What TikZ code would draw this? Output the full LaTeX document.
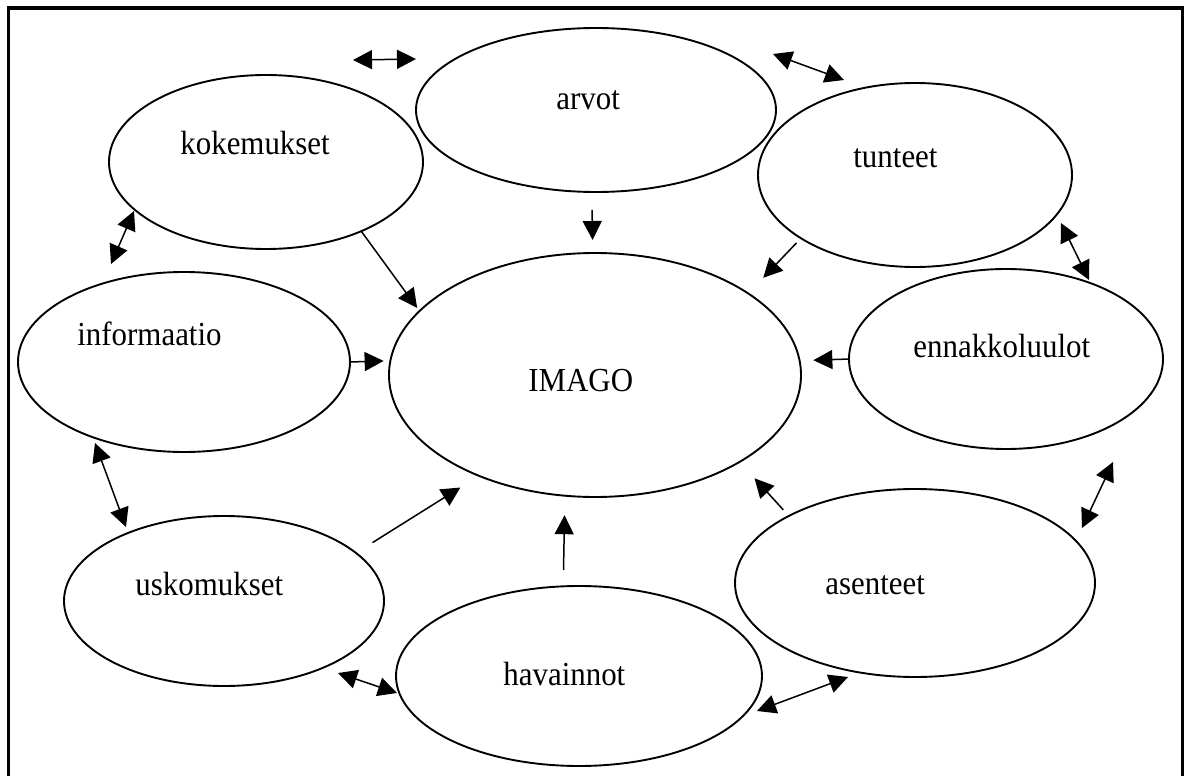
\documentclass[tikz,border=0pt]{standalone}
\usepackage{fontspec}
\setmainfont{Liberation Serif}[FakeStretch=0.92]
\usetikzlibrary{arrows.meta, shapes.geometric}

\begin{document}
\begin{tikzpicture}[
  x=0.5pt, y=-0.5pt,
  >={Triangle[length=9.5pt, width=9.5pt]},
  oval/.style={draw, ellipse, line width=0.95pt, inner sep=0pt, outer sep=0pt},
  word/.style={anchor=base west, inner sep=0pt, font=\fontsize{16.8}{19}\selectfont},
  feeds/.style={->, line width=0.75pt},
  both/.style={<->, line width=0.75pt}
]
  \useasboundingbox (0,0) rectangle (1191,776);
  \draw[line width=1.6pt] (8.5,790) -- (8.5,8) -- (1182.5,8) -- (1182.5,790);

  % the ring of ovals round IMAGO
  \node[oval, minimum width=180pt, minimum height=82pt]  (arv) at (596,110)  {};
  \node[oval, minimum width=157pt, minimum height=87pt]  (kok) at (266,162)  {};
  \node[oval, minimum width=157pt, minimum height=92pt]  (tun) at (915,175)  {};
  \node[oval, minimum width=166pt, minimum height=90pt]  (inf) at (184,362)  {};
  \node[oval, minimum width=157pt, minimum height=90pt]  (enn) at (1006,359) {};
  \node[oval, minimum width=206pt, minimum height=122pt] (img) at (595,375)  {};
  \node[oval, minimum width=160pt, minimum height=85pt]  (usk) at (224,601)  {};
  \node[oval, minimum width=183pt, minimum height=90pt]  (hav) at (579,676)  {};
  \node[oval, minimum width=180pt, minimum height=94pt]  (ase) at (915,583)  {};

  \node[word] (arvT) at (556,109) {arvot};
  \node[word] (kokT) at (180,155) {kokemukset};
  \node[word] (tunT) at (853,167) {tunteet};
  \node[word] (infT) at (77,345)  {informaatio};
  \node[word] (ennT) at (913,357) {ennakkoluulot};
  \node[word] (imgT) at (528,391) {IMAGO};
  \node[word] (uskT) at (135,595) {uskomukset};
  \node[word] (havT) at (503,685) {havainnot};
  \node[word] (aseT) at (825,594) {asenteet};

  % everything feeds IMAGO
  \draw[feeds, shorten <=9pt, shorten >=6.5pt]      (arv.-93.5)  -- (img.91.9);
  \draw[feeds, shorten >=2pt]                       (kok.-36.4)  -- (img.160.5);
  \draw[feeds, shorten <=3.25pt, shorten >=10.85pt] (tun.-151.7) -- (img.28.4);
  \draw[feeds, shorten >=3.4pt]                     (inf.-0.7)   -- (img.176.9);
  \draw[feeds, shorten >=6.9pt]                     (enn.west)   -- (img.4.5);
  \draw[feeds, shorten <=9.75pt, shorten >=11pt]    (usk.20.3)   -- (img.-139.5);
  \draw[feeds, shorten <=8.15pt, shorten >=9.75pt]  (hav.100.1)  -- (img.-104.9);
  \draw[feeds, shorten <=4.15pt, shorten >=11.1pt]  (ase.152)    -- (img.-31.7);

  % two-way links between neighbours
  \coordinate (kokArv1) at (353,60);   \coordinate (kokArv2) at (416,59);
  \coordinate (arvTun1) at (773,54);   \coordinate (arvTun2) at (844,80);
  \coordinate (kokInf1) at (134,211);  \coordinate (kokInf2) at (111,264);
  \coordinate (tunEnn1) at (1061,223); \coordinate (tunEnn2) at (1089,280);
  \coordinate (infUsk1) at (95,443);   \coordinate (infUsk2) at (126,527);
  \coordinate (ennAse1) at (1113,462); \coordinate (ennAse2) at (1082,528);
  \coordinate (uskHav1) at (338,673);  \coordinate (uskHav2) at (397,693);
  \coordinate (havAse1) at (757,711);  \coordinate (havAse2) at (848,677);

  \draw[both] (kokArv1) -- (kokArv2);
  \draw[both] (arvTun1) -- (arvTun2);
  \draw[both] (kokInf1) -- (kokInf2);
  \draw[both] (tunEnn1) -- (tunEnn2);
  \draw[both] (infUsk1) -- (infUsk2);
  \draw[both] (ennAse1) -- (ennAse2);
  \draw[both] (uskHav1) -- (uskHav2);
  \draw[both] (havAse1) -- (havAse2);
\end{tikzpicture}
\end{document}
